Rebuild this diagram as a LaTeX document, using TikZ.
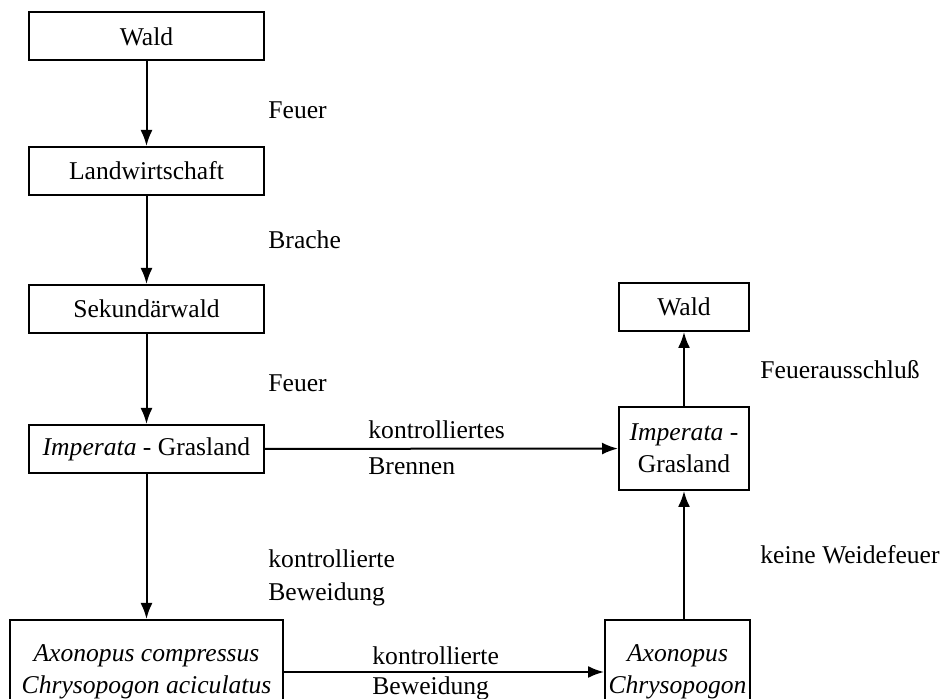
\documentclass[tikz,border=0pt]{standalone}
\usepackage{fontspec}
\setmainfont{Liberation Serif}
\usetikzlibrary{arrows.meta}

\tikzstyle{box}=[draw,line width=1pt,inner sep=0pt,align=center,font=\fontsize{12.8}{16}\selectfont]
\tikzstyle{wide box}=[box,minimum width=117.5pt,minimum height=24pt]
\tikzstyle{small box}=[box,minimum width=65pt,minimum height=24pt]
\tikzstyle{note}=[anchor=west,inner sep=0pt,align=left,font=\fontsize{12.8}{16.5}\selectfont]
\tikzstyle{flow}=[draw,line width=1pt,-{Latex[length=8pt,width=6pt]}]

\begin{document}
\begin{tikzpicture}[x=0.5pt,y=-0.5pt]
		\useasboundingbox (0,0) rectangle (949,699);
		% left column
		\node[wide box] (wald1) at (146.5,36.5) {Wald};
		\node[wide box] (landw) at (146.5,171) {Landwirtschaft};
		\node[wide box] (sek) at (146.5,309) {Sekundärwald};
		\node[wide box] (imp1) at (146.5,449) {{\itshape Imperata} - Grasland};
		\node[box,minimum width=136.5pt,minimum height=52pt] (axc) at (146.5,672)
			{\itshape Axonopus compressus\\\itshape Chrysopogon aciculatus};
		% right column
		\node[small box] (wald2) at (684,307) {Wald};
		\node[small box,minimum height=41.5pt] (imp2) at (684,448.5) {{\itshape Imperata} -\\Grasland};
		\node[box,minimum width=72.5pt,minimum height=52pt] (axr) at (677.5,672)
			{\itshape Axonopus\\\itshape Chrysopogon};
		% labels
		\node[note] (l1) at (268,110) {Feuer};
		\node[note] (l2) at (268,240) {Brache};
		\node[note] (l3) at (268,383) {Feuer};
		\node[note] (l4) at (268,578) {kontrollierte\\Beweidung};
		\node[note] (l5) at (368,430) {kontrolliertes};
		\node[note] (l6) at (368,466) {Brennen};
		\node[note] (l7) at (372,656) {kontrollierte};
		\node[note] (l8) at (372,688) {Beweidung};
		\node[note] (l9) at (760,370) {Feuerausschluß};
		\node[note] (l10) at (760,555) {keine Weidefeuer};
		% Connect boxes with arrows
		\foreach \source/ \dest in {wald1/landw, landw/sek, sek/imp1, imp1/axc, imp1/imp2, axc/axr, imp2/wald2}
		\path[flow] (\source) to (\dest);
		\path[flow] (axr.north -| imp2.south) to (imp2.south);
\end{tikzpicture}
\end{document}
